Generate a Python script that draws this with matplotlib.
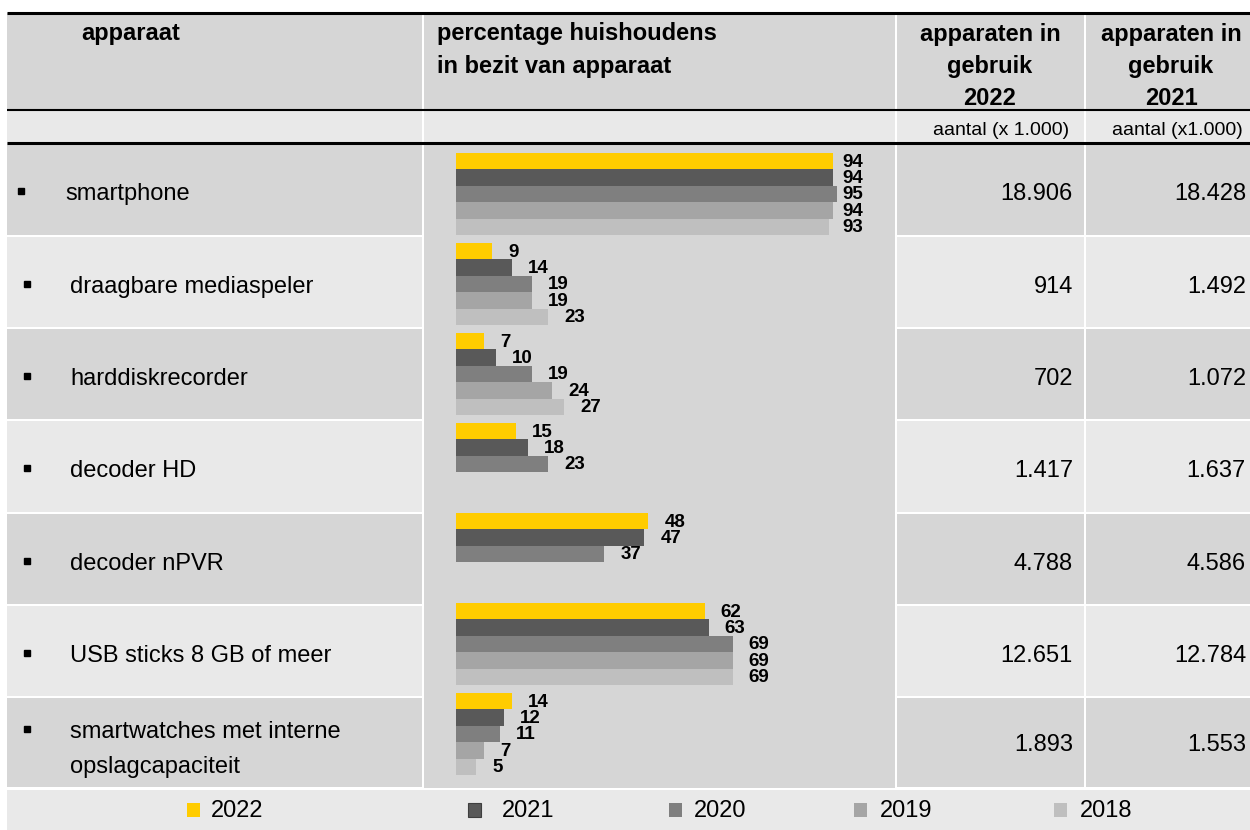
import matplotlib
matplotlib.use("Agg")
import matplotlib.pyplot as plt
from matplotlib.patches import Rectangle
import numpy as np

# ---------------- data ----------------
categories = ["smartphone", "draagbare mediaspeler", "harddiskrecorder", "decoder HD",
              "decoder nPVR", "USB sticks 8 GB of meer",
              "smartwatches met interne\nopslagcapaciteit"]
years = ["2022", "2021", "2020", "2019", "2018"]
pct_2022 = [94, 9, 7, 15, 48, 62, 14]
pct_2021 = [94, 14, 10, 18, 47, 63, 12]
pct_2020 = [95, 19, 19, 23, 37, 69, 11]
pct_2019 = [94, 19, 24, None, None, 69, 7]
pct_2018 = [93, 23, 27, None, None, 69, 5]
in_use_2022 = [18906, 914, 702, 1417, 4788, 12651, 1893]
in_use_2021 = [18428, 1492, 1072, 1637, 4586, 12784, 1553]

header_col1 = "apparaat"
header_col2 = ["percentage huishoudens", "in bezit van apparaat"]
header_col3 = ["apparaten in", "gebruik", "2022"]
header_col4 = ["apparaten in", "gebruik", "2021"]
sub_col3 = "aantal (x 1.000)"
sub_col4 = "aantal (x1.000)"

series = [pct_2022, pct_2021, pct_2020, pct_2019, pct_2018]
colors = ["#FFCC00", "#595959", "#7F7F7F", "#A5A5A5", "#BFBFBF"]

FONT = "Liberation Sans"
DARK = "#D6D6D6"
LIGHT = "#E9E9E9"

W, H = 1250, 830
fig = plt.figure(figsize=(W / 100, H / 100), dpi=100, facecolor="white")

# background / table layer in pixel coordinates
bg = fig.add_axes([0, 0, 1, 1])
bg.set_xlim(0, W)
bg.set_ylim(H, 0)
bg.axis("off")

cols = [(7, 422), (424, 895), (897, 1084), (1086, 1250)]
row_b = [143, 236, 328, 420, 513, 605, 697, 788]


def cell(x0, x1, y0, y1, c):
    bg.add_patch(Rectangle((x0, y0), x1 - x0, y1 - y0, facecolor=c, edgecolor="none", zorder=0))


for (x0, x1) in cols:
    cell(x0, x1, 13, 110, DARK)
    cell(x0, x1, 110, 143, LIGHT)
for r in range(len(categories)):
    c = DARK if r % 2 == 0 else LIGHT
    y0, y1 = row_b[r] + 1, row_b[r + 1] - 1
    if r == 0:
        y0 = row_b[r]
    for k in (0, 2, 3):
        x0, x1 = cols[k]
        cell(x0, x1, y0, y1, c)
cell(cols[1][0], cols[1][1], 143, 788, DARK)
cell(7, 1250, 790, 830, LIGHT)

# black rules
bg.plot([7, 1250], [13, 13], color="black", lw=2.2, zorder=3, solid_capstyle="butt")
bg.plot([7, 1250], [110, 110], color="black", lw=1.5, zorder=3, solid_capstyle="butt")
bg.plot([7, 1250], [143, 143], color="black", lw=2.2, zorder=3, solid_capstyle="butt")

# header texts
bg.text(131, 40, header_col1, ha="center", va="baseline", fontsize=17, fontweight="bold", family=FONT)
for k, line in enumerate(header_col2):
    bg.text(437, 40 + 33 * k, line, ha="left", va="baseline", fontsize=17, fontweight="bold", family=FONT)
for k, line in enumerate(header_col3):
    bg.text(990, 41 + 32 * k, line, ha="center", va="baseline", fontsize=17, fontweight="bold", family=FONT)
for k, line in enumerate(header_col4):
    bg.text(1171, 41 + 32 * k, line, ha="center", va="baseline", fontsize=17, fontweight="bold", family=FONT)
bg.text(1069, 135, sub_col3, ha="right", va="baseline", fontsize=14, family=FONT)
bg.text(1243, 135, sub_col4, ha="right", va="baseline", fontsize=14, family=FONT)


def nl(v):
    return f"{v:,}".replace(",", ".")


for r, name in enumerate(categories):
    top = row_b[r]
    lines = name.split("\n")
    tx = 65 if r == 0 else 70
    bx = 21 if r == 0 else 27
    if len(lines) == 1:
        base = top + 57
        bg.text(tx, base, name, ha="left", va="baseline", fontsize=17, family=FONT)
        bg.plot([bx], [base - 9], marker="s", color="black", markersize=4.8, zorder=4)
        nb = top + 57
    else:
        base = top + 41
        for k, line in enumerate(lines):
            bg.text(tx, base + 35 * k, line, ha="left", va="baseline", fontsize=17, family=FONT)
        bg.plot([bx], [base - 9], marker="s", color="black", markersize=4.8, zorder=4)
        nb = top + 54
    bg.text(1073, nb, nl(in_use_2022[r]), ha="right", va="baseline", fontsize=17, family=FONT)
    bg.text(1246, nb, nl(in_use_2021[r]), ha="right", va="baseline", fontsize=17, family=FONT)

# legend row
leg_marker_x = [193, 474, 675, 860, 1060]
leg_text_x = [211, 502, 694, 880, 1080]
for k, yr in enumerate(years):
    ec = "#3F3F3F" if k == 1 else "none"
    bg.add_patch(Rectangle((leg_marker_x[k] - 6.5, 803), 13, 14, facecolor=colors[k],
                           edgecolor=ec, lw=0.8, zorder=2))
    bg.text(leg_text_x[k], 817, yr, ha="left", va="baseline", fontsize=17, family=FONT)

# ---------------- chart column ----------------
px_per_unit = 4.01
ax_x0, ax_x1 = 424, 895
ax_y0, ax_y1 = 143, 788
bar_x0 = 456
grp_top0 = 153
grp_px = 90.0
ax = fig.add_axes([ax_x0 / W, (H - ax_y1) / H, (ax_x1 - ax_x0) / W, (ax_y1 - ax_y0) / H])
ax.set_facecolor("none")
ax.axis("off")
ax.set_xlim(-(bar_x0 - ax_x0) / px_per_unit, (ax_x1 - bar_x0) / px_per_unit)
ax.set_ylim((ax_y1 - grp_top0) / grp_px, (ax_y0 - grp_top0) / grp_px)

bh = 16.4 / grp_px
label_off = 16 / px_per_unit
label_max = (842 - bar_x0) / px_per_unit
for j, vals in enumerate(series):
    idx = [i for i, v in enumerate(vals) if v is not None]
    v_ok = [vals[i] for i in idx]
    ypos = [i + (j + 0.5) * bh for i in idx]
    ax.barh(ypos, v_ok, height=bh, left=0, color=colors[j], edgecolor="none", zorder=2)
    for y, v in zip(ypos, v_ok):
        ax.text(min(v + label_off, label_max), y + 0.01, str(v), ha="left", va="center",
                fontsize=13.5, fontweight="bold", family=FONT, zorder=3)

fig.savefig("out.png", dpi=100, facecolor="white")
